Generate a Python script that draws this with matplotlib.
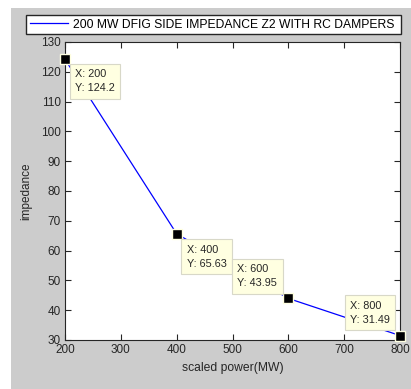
import matplotlib
matplotlib.use("Agg")
import matplotlib.pyplot as plt
from matplotlib.patches import Rectangle

plt.rcParams['font.family'] = ['Liberation Sans', 'DejaVu Sans']

power_mw = [200, 400, 600, 800]
impedance = [124.2, 65.63, 43.95, 31.49]
x_ticks = [200, 300, 400, 500, 600, 700, 800]
y_ticks = [30, 40, 50, 60, 70, 80, 90, 100, 110, 120, 130]
series_label = "200 MW DFIG SIDE IMPEDANCE Z2 WITH RC DAMPERS"

W, H = 411, 389
fig = plt.figure(figsize=(W / 100, H / 100), dpi=100, facecolor='white')
# grey figure panel, leaving a thin white margin on the left and top
fig.patches.append(Rectangle((11 / W, 0), 1 - 11 / W, 1 - 8 / H,
                             transform=fig.transFigure, facecolor='#cccccc',
                             edgecolor='none', zorder=-10))

ax = fig.add_axes([65 / W, 1 - 340 / H, (400 - 65) / W, (340 - 42) / H])
ax.set_facecolor('white')
line, = ax.plot(power_mw, impedance, color='#0000ff', lw=0.9, label=series_label)
ax.set_xlim(200, 800)
ax.set_ylim(30, 130)
ax.set_xticks(x_ticks)
ax.set_yticks(y_ticks)
ax.tick_params(direction='in', length=4, width=0.8, top=True, right=True,
               labelsize=8.5, colors='#262626', pad=3)
for s in ax.spines.values():
    s.set_color('#262626')
    s.set_linewidth(0.8)
ax.set_xlabel('scaled power(MW)', fontsize=8.7, labelpad=4, color='#262626')
ax.set_ylabel('impedance', fontsize=8.5, labelpad=6, color='#262626')

# data tips: black square marker with a cream text box
offsets = [(5, -4, 'left', 'top'), (5, -5, 'left', 'top'),
           (-6, 4, 'right', 'bottom'), (-5, 5, 'right', 'bottom')]
for (x, y), (dx, dy, ha, va) in zip(zip(power_mw, impedance), offsets):
    ax.plot([x], [y], marker='s', ms=7, color='black', mec='#ffffe1', mew=1,
            clip_on=False, zorder=5)
    txt = f"X: {x}\nY: {y:g}"
    ax.annotate(txt, (x, y), xytext=(dx + (5 if ha == 'left' else -5),
                                     dy + (-6 if va == 'top' else 6)),
                textcoords='offset pixels', ha=ha, va=va, multialignment='left',
                fontsize=7.8, color='#262626', linespacing=1.5,
                bbox=dict(boxstyle='square,pad=0.5', fc='#ffffe1',
                          ec='#d8d8c8', lw=0.8), zorder=6, annotation_clip=False)

fig.legend(handles=[line], labels=[series_label],
           bbox_to_anchor=(26 / W, 1 - 35 / H, (401 - 26) / W, 21 / H),
           loc='center', mode='expand', fontsize=8.7, handlelength=3.2,
           handletextpad=0.4, borderpad=0.3, borderaxespad=0,
           fancybox=False, framealpha=1, edgecolor='#262626', facecolor='white')

fig.savefig('out.png', dpi=100, facecolor='white')
